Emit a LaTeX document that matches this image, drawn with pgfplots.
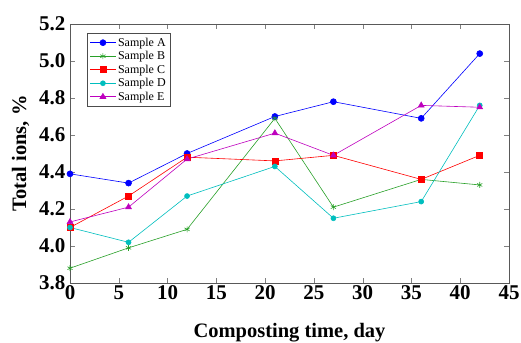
\documentclass[border=0pt]{standalone}
\usepackage{pgfplots}
\pgfplotsset{compat=1.18}
\usepackage{fontspec}
\setmainfont{Liberation Serif}
\definecolor{cA}{RGB}{0,0,255}
\definecolor{cB}{RGB}{40,160,40}
\definecolor{cC}{RGB}{255,0,0}
\definecolor{cD}{RGB}{0,190,190}
\definecolor{cE}{RGB}{190,0,190}
\begin{document}
\begin{tikzpicture}
\begin{axis}[
  scale only axis,
  width=439pt, height=259pt,
  xmin=0, xmax=45, ymin=3.8, ymax=5.2,
  xtick={0,5,...,45},
  ytick={3.8,4.0,...,5.2},
  yticklabel style={/pgf/number format/fixed,/pgf/number format/fixed zerofill,/pgf/number format/precision=1,xshift=-1pt},
  xticklabel style={yshift=1pt},
  /pgf/number format/assume math mode=true,
  tick align=inside,
  major tick length=5pt,
  ticklabel style={font=\fontsize{21}{21}\selectfont\bfseries},
  xlabel={Composting time, day},
  ylabel={Total ions, \%},
  label style={font=\fontsize{20.5}{20.5}\selectfont\bfseries},
  xlabel style={yshift=-17pt},
  ylabel style={yshift=3pt},
  axis line style={gray!70!black},
  legend style={at={(0.039,0.965)},anchor=north west,font=\fontsize{12}{13.5}\selectfont,draw=gray!60!black,row sep=-0.3pt,inner sep=2.5pt},
  legend image code/.code={\draw[mark repeat=2,mark phase=2] plot coordinates {(0cm,0cm) (0.45cm,0cm) (0.9cm,0cm)};},
  legend cell align=left,
  every axis plot/.append style={line width=0.6pt},
]
\addplot[color=cA,mark=*,mark size=3pt] coordinates {(0,4.39) (6,4.34) (12,4.50) (21,4.70) (27,4.78) (36,4.69) (42,5.04)};
\addlegendentry{Sample A}
\addplot[color=cB,mark=asterisk,mark size=3pt] coordinates {(0,3.88) (6,3.99) (12,4.09) (21,4.69) (27,4.21) (36,4.36) (42,4.33)};
\addlegendentry{Sample B}
\addplot[color=cC,mark=square*,mark size=3pt] coordinates {(0,4.10) (6,4.27) (12,4.48) (21,4.46) (27,4.49) (36,4.36) (42,4.49)};
\addlegendentry{Sample C}
\addplot[color=cD,mark=*,mark size=2.5pt] coordinates {(0,4.10) (6,4.02) (12,4.27) (21,4.43) (27,4.15) (36,4.24) (42,4.76)};
\addlegendentry{Sample D}
\addplot[color=cE,mark=triangle*,mark size=3.4pt] coordinates {(0,4.13) (6,4.21) (12,4.47) (21,4.61) (27,4.49) (36,4.76) (42,4.75)};
\addlegendentry{Sample E}
\end{axis}
\path (current axis.south west) ++(-70pt,-59pt) coordinate (bl);
\path (current axis.north east) ++(12pt,24pt) coordinate (tr);
\pgfresetboundingbox
\path[use as bounding box] (bl) rectangle (tr);
\end{tikzpicture}
\end{document}
